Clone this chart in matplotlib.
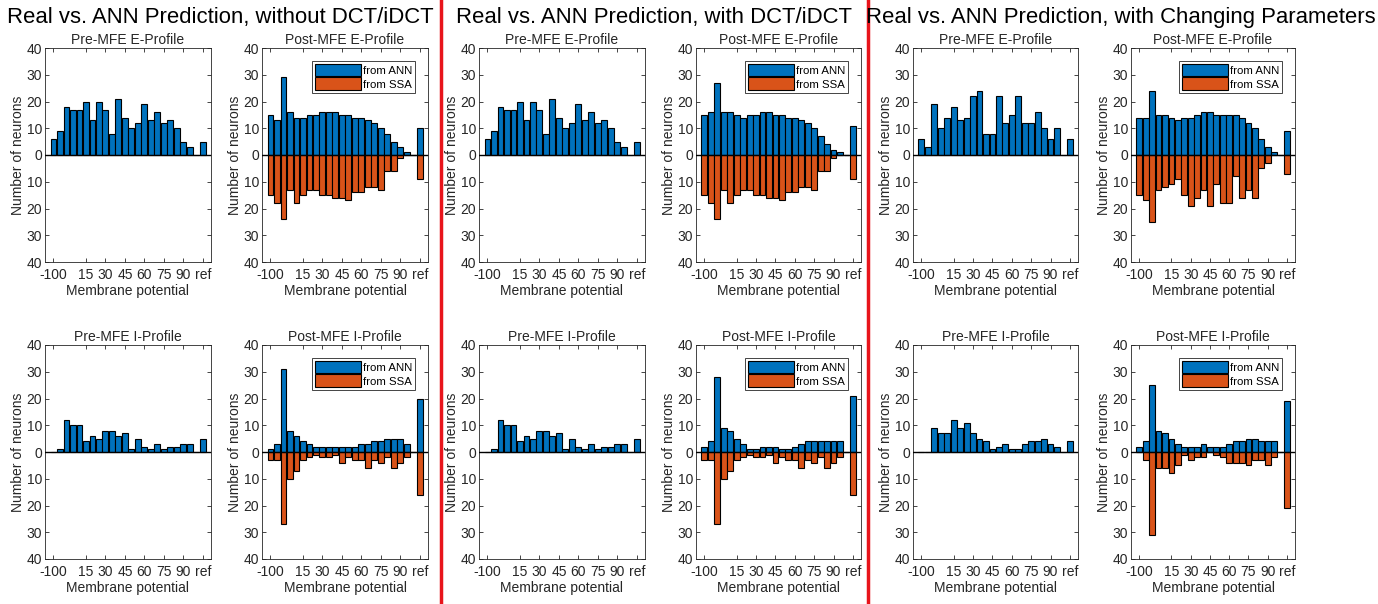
"""Real vs. ANN prediction of membrane potential profiles, three variants."""
import matplotlib
matplotlib.use("Agg")
import matplotlib.pyplot as plt
import numpy as np

plt.rcParams["font.family"] = ["Liberation Sans", "DejaVu Sans"]

# membrane-potential bins (22 voltage bins, an empty gap, then refractory)
N_BINS = 24
TICK_POS = [1, 6, 9, 12, 15, 18, 21, 24]
TICK_LABELS = ["-100", "15", "30", "45", "60", "75", "90", "ref"]
Y_TICKS = [-40, -30, -20, -10, 0, 10, 20, 30, 40]

# --- without DCT/iDCT
PRE_E_1 = [6, 9, 18, 17, 17, 20, 13, 20, 17, 8, 21, 14, 10, 12, 19, 13, 16, 12, 13, 10, 5, 3, 0, 5]
POST_E_ANN_1 = [15, 13, 29, 16, 14, 14, 15, 15, 16, 16, 16, 15, 15, 14, 14, 13, 12, 10, 8, 5, 3, 1, 0, 10]
POST_E_SSA_1 = [15, 18, 24, 13, 18, 15, 13, 13, 15, 15, 16, 16, 17, 14, 14, 12, 12, 13, 6, 6, 1, 0, 0, 9]
PRE_I_1 = [0, 1, 12, 10, 10, 4, 6, 5, 8, 8, 6, 7, 1, 5, 2, 1, 3, 1, 2, 2, 3, 3, 0, 5]
POST_I_ANN_1 = [1, 3, 31, 8, 6, 4, 3, 2, 2, 2, 2, 2, 2, 2, 3, 3, 4, 4, 5, 5, 5, 3, 0, 20]
POST_I_SSA_1 = [3, 3, 27, 10, 7, 3, 2, 1, 2, 2, 1, 4, 2, 3, 3, 6, 3, 4, 2, 6, 4, 2, 0, 16]

# --- with DCT/iDCT
PRE_E_2 = [6, 9, 18, 17, 17, 20, 13, 20, 17, 8, 21, 14, 10, 12, 19, 13, 16, 12, 13, 10, 5, 3, 0, 5]
POST_E_ANN_2 = [15, 16, 27, 16, 16, 15, 14, 15, 15, 16, 16, 15, 15, 14, 14, 13, 12, 10, 7, 4, 2, 1, 0, 11]
POST_E_SSA_2 = [15, 18, 24, 13, 18, 15, 13, 13, 15, 15, 16, 16, 17, 14, 14, 12, 12, 13, 6, 6, 1, 0, 0, 9]
PRE_I_2 = [0, 1, 12, 10, 10, 4, 6, 5, 8, 8, 6, 7, 1, 5, 2, 1, 3, 1, 2, 2, 3, 3, 0, 5]
POST_I_ANN_2 = [2, 4, 28, 9, 8, 5, 3, 1, 1, 2, 2, 2, 1, 1, 2, 3, 4, 4, 4, 4, 4, 4, 0, 21]
POST_I_SSA_2 = [3, 3, 27, 10, 7, 3, 2, 1, 2, 2, 1, 4, 2, 3, 3, 6, 3, 4, 2, 6, 4, 2, 0, 16]

# --- with changing parameters
PRE_E_3 = [6, 3, 19, 10, 14, 18, 13, 14, 22, 24, 8, 8, 22, 12, 15, 22, 12, 12, 16, 10, 6, 10, 0, 6]
POST_E_ANN_3 = [14, 14, 24, 15, 15, 14, 13, 14, 14, 15, 16, 16, 15, 15, 15, 15, 14, 12, 10, 6, 3, 1, 0, 9]
POST_E_SSA_3 = [15, 17, 25, 13, 12, 11, 9, 15, 19, 16, 13, 19, 11, 18, 18, 8, 16, 13, 16, 5, 3, 0, 0, 7]
PRE_I_3 = [0, 0, 9, 7, 7, 12, 9, 11, 7, 5, 4, 1, 2, 3, 1, 1, 3, 4, 4, 5, 3, 2, 0, 4]
POST_I_ANN_3 = [2, 4, 25, 8, 7, 5, 3, 2, 2, 2, 3, 2, 2, 2, 3, 4, 4, 5, 5, 4, 4, 4, 0, 19]
POST_I_SSA_3 = [0, 3, 31, 6, 6, 8, 5, 1, 3, 2, 2, 0, 1, 2, 4, 4, 4, 5, 3, 3, 5, 2, 0, 21]

GROUP_TITLES = [
    "Real vs. ANN Prediction, without DCT/iDCT",
    "Real vs. ANN Prediction, with DCT/iDCT",
    "Real vs. ANN Prediction, with Changing Parameters",
]
GROUPS = [
    (PRE_E_1, POST_E_ANN_1, POST_E_SSA_1, PRE_I_1, POST_I_ANN_1, POST_I_SSA_1),
    (PRE_E_2, POST_E_ANN_2, POST_E_SSA_2, PRE_I_2, POST_I_ANN_2, POST_I_SSA_2),
    (PRE_E_3, POST_E_ANN_3, POST_E_SSA_3, PRE_I_3, POST_I_ANN_3, POST_I_SSA_3),
]

BLUE = "#0072BD"
ORANGE = "#D95319"
AXC = "#262626"

W, H = 1378, 604
# axes left/right edges in pixels, per column
COL_PX = [(45, 211), (262, 428), (479, 645), (696, 861), (913, 1078), (1131, 1295)]
ROW_PX = [(48, 262), (345, 559)]
TITLE_X = [220, 654, 1121]
SEP_X = [441, 868]


def style_axes(ax, title):
    x = np.arange(1, N_BINS + 1)
    ax.set_xlim(-0.3, N_BINS + 1.25)
    ax.set_ylim(-40, 40)
    ax.set_xticks(TICK_POS)
    ax.set_xticklabels(TICK_LABELS)
    ax.set_yticks(Y_TICKS)
    ax.set_yticklabels([str(abs(v)) for v in Y_TICKS])
    ax.tick_params(direction="in", top=True, right=True, length=3, width=0.6,
                   colors=AXC, labelsize=10, pad=2)
    ax.tick_params(axis="x", pad=4)
    for sp in ax.spines.values():
        sp.set_color(AXC)
        sp.set_linewidth(0.6)
    ax.axhline(0, color="k", lw=1.0, zorder=3)
    ax.set_title(title, fontsize=10, color=AXC, pad=3)
    ax.set_xlabel("Membrane potential", fontsize=10, color=AXC, labelpad=2)
    ax.set_ylabel("Number of neurons", fontsize=10, color=AXC, labelpad=1)
    return x


def main():
    fig = plt.figure(figsize=(W / 100, H / 100), dpi=100)

    for g, (title, data) in enumerate(zip(GROUP_TITLES, GROUPS)):
        pre_e, post_e_ann, post_e_ssa, pre_i, post_i_ann, post_i_ssa = data
        fig.text(TITLE_X[g] / W, 1 - 18 / H, title, ha="center", va="center",
                 fontsize=15.9, color="k")
        panels = [
            (0, 0, "Pre-MFE E-Profile", pre_e, None),
            (0, 1, "Post-MFE E-Profile", post_e_ann, post_e_ssa),
            (1, 0, "Pre-MFE I-Profile", pre_i, None),
            (1, 1, "Post-MFE I-Profile", post_i_ann, post_i_ssa),
        ]
        for row, col, sub, ann, ssa in panels:
            l, r = COL_PX[2 * g + col]
            t, b = ROW_PX[row]
            ax = fig.add_axes([l / W, 1 - b / H, (r - l) / W, (b - t) / H])
            x = style_axes(ax, sub)
            ax.bar(x, ann, width=0.9, color=BLUE, edgecolor="k", lw=0.8,
                   label="from ANN", zorder=2)
            if ssa is not None:
                ax.bar(x, -np.asarray(ssa), width=0.9, color=ORANGE,
                       edgecolor="k", lw=0.8, label="from SSA", zorder=2)
                leg = ax.legend(loc="upper right", fontsize=8.2, handlelength=4.0,
                                handleheight=1.3, handletextpad=0.2,
                                labelspacing=0.1, borderpad=0.3,
                                borderaxespad=1.1, fancybox=False,
                                framealpha=1)
                leg.get_frame().set_edgecolor(AXC)
                leg.get_frame().set_linewidth(0.6)

    for sx in SEP_X:
        fig.add_artist(plt.Line2D([sx / W, sx / W], [0, 1], color="#E8141B",
                                  lw=2.5, transform=fig.transFigure))

    fig.savefig("out.png", dpi=100)
    plt.close(fig)


if __name__ == "__main__":
    main()
